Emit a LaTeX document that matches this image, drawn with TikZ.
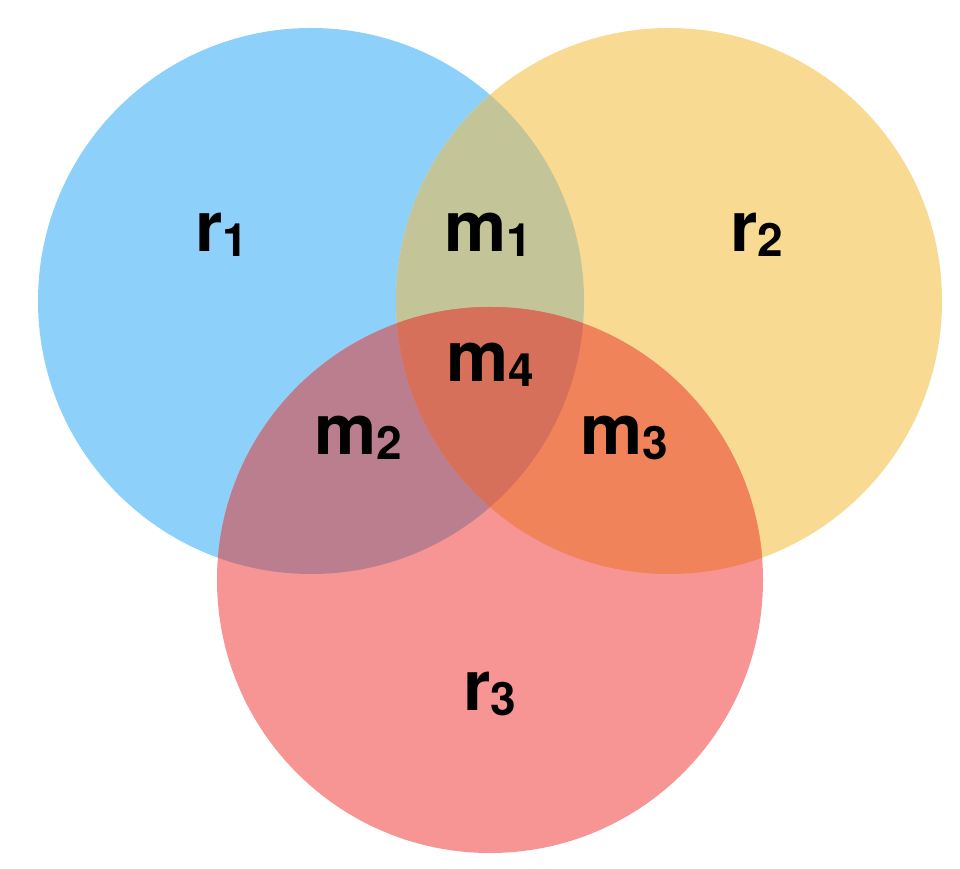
\documentclass[tikz,border=0pt]{standalone}
\usepackage{fontspec}
\setmainfont{TeX Gyre Heros}
\usetikzlibrary{positioning}

\definecolor{setblue}{HTML}{8DD1FA}
\definecolor{setyellow}{HTML}{F8DA93}
\definecolor{setred}{HTML}{F69593}
\definecolor{mixby}{HTML}{C3C598}
\definecolor{mixbr}{HTML}{BB7E8E}
\definecolor{mixyr}{HTML}{F1835B}
\definecolor{mixall}{HTML}{D6705A}

\newcommand{\setlbl}[2]{#1\raisebox{-5pt}{\fontsize{46}{46}\selectfont #2}}

\begin{document}
\begin{tikzpicture}[
  x=1pt,y=1pt,
  lbl/.style={font=\fontsize{70}{70}\selectfont\bfseries,anchor=base,inner sep=0pt}
]
\useasboundingbox (0,0) rectangle (960,868);
\coordinate (c1) at (311,567);
\coordinate (c2) at (669,567);
\coordinate (c3) at (490,288);
% the three sets
\fill[setblue] (c1) circle (273pt);
\fill[setyellow] (c2) circle (273pt);
\fill[setred] (c3) circle (273pt);
% pairwise overlaps
\begin{scope}
  \clip (c1) circle (273pt);
  \fill[mixby] (c2) circle (273pt);
  \fill[mixbr] (c3) circle (273pt);
\end{scope}
\begin{scope}
  \clip (c2) circle (273pt);
  \fill[mixyr] (c3) circle (273pt);
\end{scope}
% common part
\begin{scope}
  \clip (c1) circle (273pt);
  \clip (c2) circle (273pt);
  \fill[mixall] (c3) circle (273pt);
\end{scope}
\node[lbl] (r1) at (222,616) {\setlbl{r}{1}};
\node[lbl] (m1) at (488,616) {\setlbl{m}{1}};
\node[lbl] (r2) at (757,616) {\setlbl{r}{2}};
\node[lbl] (m4) at (490,486) {\setlbl{m}{4}};
\node[lbl] (m2) at (358,413) {\setlbl{m}{2}};
\node[lbl] (m3) at (624,413) {\setlbl{m}{3}};
\node[lbl] (r3) at (490,158) {\setlbl{r}{3}};
\end{tikzpicture}
\end{document}
